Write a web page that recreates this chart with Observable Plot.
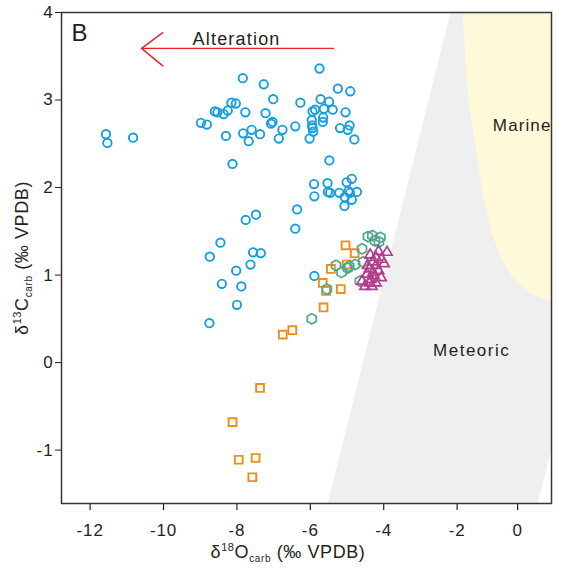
<!DOCTYPE html>
<html><head><meta charset="utf-8">
<script src="https://cdn.jsdelivr.net/npm/d3@7"></script>
<script src="https://cdn.jsdelivr.net/npm/@observablehq/plot@0.6"></script>
<style>body{margin:0;background:#fff}</style>
</head><body><div id="chart"></div>
<script>
// ---- data ----
const xTicks = [-12, -10, -8, -6, -4, -2, 0];
const yTicks = [-1, 0, 1, 2, 3, 4];

const blueX = [-11.57,-11.53,-10.83,-8.98,-8.82,-8.60,-8.53,-8.36,-8.25,-8.15,-8.03,-7.84,-7.77,-7.27,-7.22,-7.01,-7.07,-7.03,-8.30,-7.83,-7.60,-7.37,-7.68,-6.86,-6.76,-8.12,-6.41,-6.27,-5.75,-5.25,-4.91,-5.72,-5.49,-5.94,-5.87,-5.63,-5.39,-5.04,-5.65,-5.96,-5.66,-5.95,-5.94,-5.92,-6.02,-5.19,-4.93,-4.98,-4.80,-5.48,-5.90,-5.53,-5.01,-4.87,-5.89,-5.52,-5.46,-5.21,-4.96,-4.92,-4.73,-5.06,-4.87,-5.07,-6.36,-6.41,-7.48,-7.76,-8.45,-8.74,-7.56,-7.35,-7.63,-8.02,-8.41,-7.88,-8.00,-8.75,-5.89];
const blueY = [2.61,2.51,2.57,2.74,2.72,2.87,2.86,2.84,2.88,2.97,2.96,3.25,2.86,3.18,2.85,3.01,2.73,2.75,2.59,2.62,2.66,2.61,2.53,2.56,2.66,2.27,2.70,2.97,3.36,3.13,3.10,3.01,2.98,2.87,2.89,2.90,2.89,2.86,2.80,2.77,2.75,2.71,2.68,2.64,2.56,2.68,2.71,2.66,2.55,2.31,2.04,2.05,2.06,2.10,1.90,1.95,1.94,1.94,1.96,1.94,1.95,1.89,1.86,1.79,1.75,1.53,1.69,1.63,1.37,1.21,1.26,1.25,1.12,1.05,0.90,0.87,0.66,0.45,0.99];

const orangeX = [-5.04,-4.79,-5.44,-5.01,-5.66,-5.57,-5.17,-5.64,-6.49,-6.75,-7.37,-8.12,-7.95,-7.49,-7.58];
const orangeY = [1.34,1.25,1.07,1.12,0.91,0.82,0.84,0.63,0.37,0.32,-0.29,-0.68,-1.11,-1.09,-1.31];

const greenX = [-4.43,-4.31,-4.09,-4.24,-4.13,-4.59,-5.30,-5.15,-4.98,-4.94,-4.78,-4.56,-4.65,-5.55,-5.96];
const greenY = [1.44,1.45,1.43,1.39,1.38,1.30,1.11,1.03,1.08,1.10,1.12,1.15,0.93,0.84,0.50];

const magentaX = [-4.14,-3.91,-4.37,-4.21,-4.06,-4.30,-3.99,-4.44,-4.21,-4.39,-4.14,-4.45,-4.26,-4.07,-4.59,-4.39,-4.21,-4.51,-4.32,-4.35,-4.29];
const magentaY = [1.27,1.26,1.23,1.20,1.18,1.15,1.13,1.11,1.11,1.07,1.05,1.01,0.99,0.97,0.93,0.91,0.91,0.87,0.87,0.95,1.03];

// field outlines (data units)
const meteoricX = [-2.18, 1.12, 1.12, 0.66, -5.53];
const meteoricY = [4, 4, -0.98, -1.61, -1.61];
const marineX = [-1.82, -1.72, -1.62, -1.49, -1.32, -1.12, -0.83, -0.50, -0.07, 0.50, 1.12, 1.12];
const marineY = [4, 3.45, 2.99, 2.71, 2.31, 1.85, 1.45, 1.16, 0.93, 0.78, 0.70, 4];

// annotations
const arrowShaftX = [-10.60, -5.37], arrowShaftY = [3.59, 3.59];
const arrowHeadX = [-10.02, -10.60, -10.02], arrowHeadY = [3.77, 3.59, 3.39];
const noteText = ["B", "Alteration", "Marine", "Meteoric"];
const noteX = [-12.29, -8.01, 0.15, -1.52];
const noteY = [3.76, 3.69, 2.71, 0.14];
const noteSize = [24, 18, 17, 17];
const noteSpacing = [0, 1.2, 1.1, 1.5];

// ---- build ----
const yMin = -1.61, yMax = 4;
const pts = (xs, ys) => xs.map((x, i) => ({x, y: ys[i]}));
const notes = noteText.map((t, i) => ({t, x: noteX[i], y: noteY[i], s: noteSize[i], ls: noteSpacing[i]}));
const font = "'Liberation Sans', Arial, Helvetica, sans-serif";
// the original axis is compressed to the right of -2 (the "0" tick sits closer to "-2")
const squeeze = v => (v <= -2 ? v : -2 + (v + 2) * 0.8243);
const tickLen = 7 / 87.3; // tick length in y units

const plot = Plot.plot({
  width: 561, height: 571,
  marginLeft: 61, marginRight: 10, marginTop: 12, marginBottom: 68,
  style: {fontFamily: font, fontSize: "17px", color: "#231f20", background: "white"},
  x: {domain: [-12.78, 0.572], transform: squeeze, axis: null},
  y: {domain: [yMin, yMax], ticks: yTicks,
      tickFormat: d => String(d), tickSize: 6, tickPadding: 2, label: null},
  marks: [
    Plot.line(pts(meteoricX, meteoricY), {x: "x", y: "y", fill: "#efefef", stroke: "none"}),
    Plot.line(pts(marineX, marineY), {x: "x", y: "y", fill: "#fefad9", stroke: "none", curve: "linear"}),
    Plot.line(pts(arrowShaftX, arrowShaftY), {x: "x", y: "y", stroke: "#e8232b", strokeWidth: 1.4}),
    Plot.line(pts(arrowHeadX, arrowHeadY), {x: "x", y: "y", stroke: "#e8232b", strokeWidth: 1.4}),
    ...notes.map(n => Plot.text([n], {x: "x", y: "y", text: "t", fontSize: n.s, fill: "#231f20"})),
    Plot.dot(pts(blueX, blueY), {x: "x", y: "y", symbol: "circle", r: 4.2, stroke: "#139fe0", strokeWidth: 1.9, fill: "none"}),
    Plot.dot(pts(orangeX, orangeY), {x: "x", y: "y", symbol: "square", r: 4.4, stroke: "#f28c18", strokeWidth: 1.9, fill: "none"}),
    Plot.dot(pts(greenX, greenY), {x: "x", y: "y", symbol: "hexagon", r: 4.5, stroke: "#4ea78c", strokeWidth: 1.7, fill: "none"}),
    Plot.dot(pts(magentaX, magentaY), {x: "x", y: "y", symbol: "triangle", r: 3.8, stroke: "#b13f8c", strokeWidth: 1.7, fill: "none"}),
    // x axis (drawn through the x scale so the compressed "0" tick lands where the original puts it)
    Plot.ruleX(xTicks, {x: d => d, y1: yMin, y2: yMin - tickLen, stroke: "#231f20", strokeWidth: 1.2}),
    Plot.text(xTicks, {x: d => d, y: yMin, dy: 27, text: d => String(d), fontSize: 17, fill: "#231f20"}),
    Plot.frame({stroke: "#3a3536", strokeWidth: 1.5})
  ]
});
document.getElementById("chart").appendChild(plot);

const svg = d3.select(plot);
// letter spacing to match the original's looser typesetting
const tickLabels = new Set([...xTicks, ...yTicks].map(String));
svg.selectAll("text").each(function () {
  const t = this.textContent;
  const i = noteText.indexOf(t);
  if (i >= 0) d3.select(this).attr("letter-spacing", noteSpacing[i]);
  else if (tickLabels.has(t)) d3.select(this).attr("letter-spacing", 0.9);
});

// axis titles with super/subscripts
const xt = svg.append("text").attr("x", 288).attr("y", 558).attr("text-anchor", "middle")
  .attr("font-family", font).attr("font-size", 18).attr("fill", "#231f20").attr("letter-spacing", 0.6);
xt.append("tspan").text("δ");
xt.append("tspan").attr("font-size", 11).attr("dy", -7).text("18");
xt.append("tspan").attr("dy", 7).text("O");
xt.append("tspan").attr("font-size", 10).attr("dy", 4).text("carb");
xt.append("tspan").attr("dy", -4).text(" (‰ VPDB)");

const yt = svg.append("text").attr("transform", "translate(28,258) rotate(-90)").attr("text-anchor", "middle")
  .attr("font-family", font).attr("font-size", 18).attr("fill", "#231f20").attr("letter-spacing", 0.6);
yt.append("tspan").text("δ");
yt.append("tspan").attr("font-size", 11).attr("dy", -7).text("13");
yt.append("tspan").attr("dy", 7).text("C");
yt.append("tspan").attr("font-size", 10).attr("dy", 4).text("carb");
yt.append("tspan").attr("dy", -4).text(" (‰ VPDB)");
</script>
</body></html>
